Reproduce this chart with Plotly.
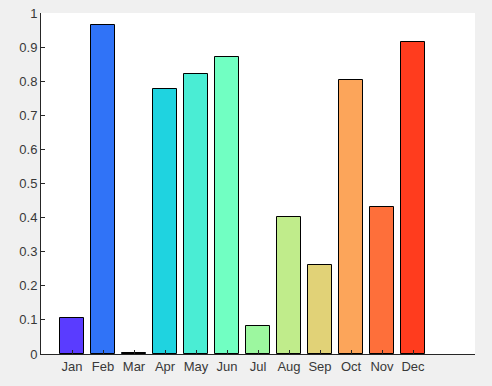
import plotly.graph_objects as go

months = ["Jan", "Feb", "Mar", "Apr", "May", "Jun", "Jul", "Aug", "Sep", "Oct", "Nov", "Dec"]
values = [0.105, 0.964, 0.004, 0.776, 0.820, 0.870, 0.081, 0.401, 0.260, 0.803, 0.430, 0.914]
colors = ["#5a3cff", "#3073f7", "#1aa0ef", "#1fd3e0", "#4aedd4", "#71ffc2",
          "#9cf79f", "#c0ec8b", "#e1d277", "#fca55a", "#fe6f3a", "#ff3c1e"]
positions = list(range(1, len(months) + 1))
yticks = [i / 10 for i in range(11)]

fig = go.Figure(go.Bar(
    x=positions, y=values, width=0.8,
    marker=dict(color=colors, line=dict(color="black", width=1)),
))

fig.update_layout(
    width=492, height=386,
    paper_bgcolor="#f0f0f0", plot_bgcolor="white",
    margin=dict(l=41, r=17, t=13, b=32, autoexpand=False),
    showlegend=False,
    font=dict(family="Liberation Sans, Arial, sans-serif", size=13, color="#383838"),
    bargap=0,
)
fig.update_xaxes(
    range=[0, 14], tickvals=positions, ticktext=months,
    ticks="inside", ticklen=4, tickcolor="#262626",
    showline=True, linecolor="#262626", linewidth=1,
    showgrid=False, zeroline=False, automargin=False,
)
fig.update_yaxes(
    range=[0, 1], tickvals=yticks,
    ticks="inside", ticklen=4, tickcolor="#262626",
    showline=True, linecolor="#262626", linewidth=1,
    showgrid=False, zeroline=False, automargin=False,
)

fig.write_html(
    "out.html",
    config={"displayModeBar": False},
    post_script="document.body.style.margin='0px';document.body.style.background='#f0f0f0';",
)
